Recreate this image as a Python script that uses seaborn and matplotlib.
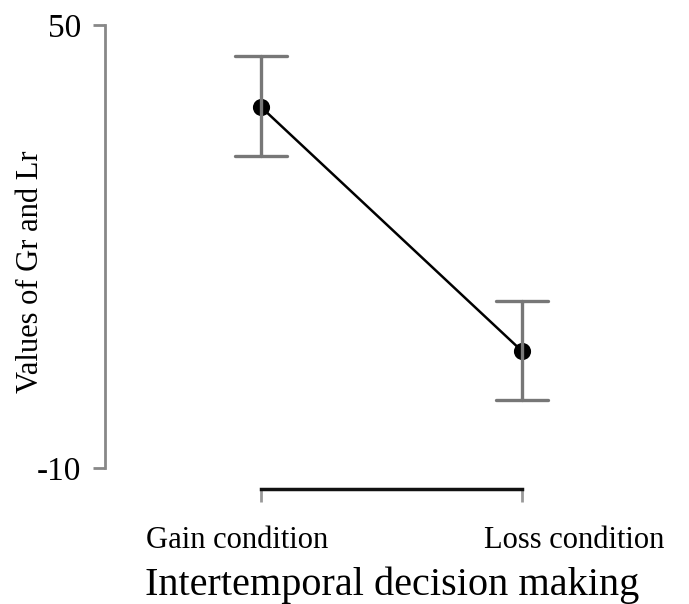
import matplotlib
matplotlib.use("Agg")
import matplotlib.pyplot as plt
import matplotlib.transforms as mtransforms
import seaborn as sns
import pandas as pd
import numpy as np

# Data
conditions = ["Gain condition", "Loss condition"]
means = [38.9, 5.8]
lower = [32.3, -0.8]
upper = [45.8, 12.65]
y_ticks = [-10, 50]
x_label = "Intertemporal decision making"
y_label = "Values of Gr and Lr"

rows = []
for c, lo, m, hi in zip(conditions, lower, means, upper):
    for v in (lo, m, hi):
        rows.append({"condition": c, "value": v})
df = pd.DataFrame(rows)

sns.set_theme(style="white")
plt.rcParams["font.family"] = ["Liberation Serif", "DejaVu Serif"]
plt.rcParams["text.color"] = "black"
plt.rcParams["axes.labelcolor"] = "black"
plt.rcParams["xtick.color"] = "black"
plt.rcParams["ytick.color"] = "black"

fig = plt.figure(figsize=(6.89, 6.04), dpi=100)
ax = fig.add_axes([105/689, 1 - 468/604, 545/689, 443/604])

sns.pointplot(data=df, x="condition", y="value", order=conditions,
              estimator="median", errorbar=lambda v: (v.min(), v.max()),
              capsize=0.2, color="black", markersize=11, linewidth=1.8,
              err_kws={"color": "#777777", "linewidth": 2.4}, ax=ax)

ax.set_ylim(-10, 50)
ax.set_xlim(-0.597, 1.489)
ax.set_yticks(y_ticks)
ax.set_yticklabels([str(t) for t in y_ticks], fontsize=24)

for s in ["top", "right"]:
    ax.spines[s].set_visible(False)
ax.spines["left"].set_color("#888888")
ax.spines["left"].set_linewidth(2)
ax.spines["left"].set_bounds(-10, 50)
ax.spines["bottom"].set_position(("outward", 15))
ax.spines["bottom"].set_bounds(0, 1)
ax.spines["bottom"].set_color("#111111")
ax.spines["bottom"].set_linewidth(2.5)

ax.tick_params(axis="y", direction="out", length=9, width=2, color="#888888",
               pad=8, left=True, labelcolor="black")
ax.tick_params(axis="x", direction="out", length=9, width=2, color="#999999",
               pad=18, bottom=True, labelsize=22, labelcolor="black")

offsets = [-24, 52]
for lab, dx in zip(ax.get_xticklabels(), offsets):
    lab.set_transform(lab.get_transform() +
                      mtransforms.ScaledTranslation(dx/100, 0, fig.dpi_scale_trans))

ax.set_xlabel(x_label, fontsize=29, color="black")
ax.set_ylabel(y_label, fontsize=22, color="black")
ax.xaxis.set_label_coords(0.527, -0.222)
ax.yaxis.set_label_coords(-0.11, 0.443)

fig.savefig("out.png", dpi=100)
